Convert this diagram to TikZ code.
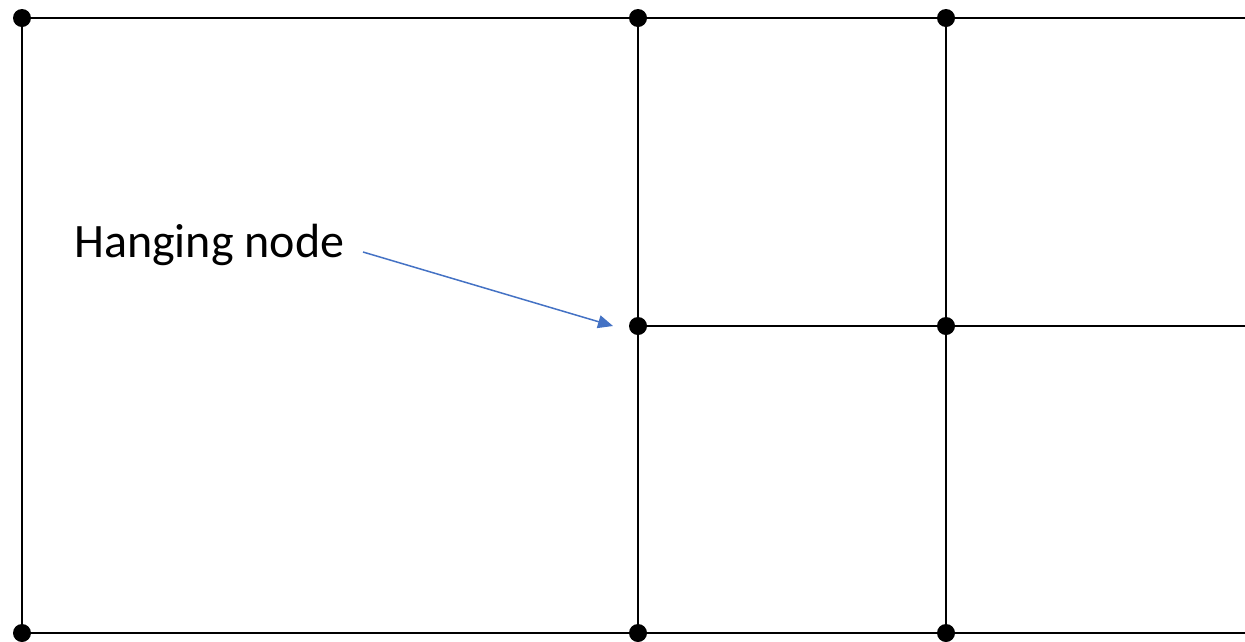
\documentclass[tikz,border=0pt]{standalone}
\usepackage{fontspec}
\setmainfont{Carlito}
\usetikzlibrary{arrows.meta}
\definecolor{arrowblue}{HTML}{4472C4}
\tikzset{
  gridline/.style={line width=2.5pt, black},
  dot/.style={circle, fill=black, inner sep=0pt, minimum size=18pt},
  pointer/.style={arrowblue, line width=1.5pt, -{Triangle[length=15pt, width=13pt]}},
  label/.style={anchor=base west, inner sep=0pt, font=\fontsize{48}{54}\selectfont}
}
\begin{document}
\begin{tikzpicture}[x=1pt, y=-1pt]
\useasboundingbox (0,0) rectangle (1245,641);
\coordinate (a1) at (22,18);
\coordinate (a2) at (22,633);
\coordinate (b1) at (638,18);
\coordinate (b2) at (638,326);
\coordinate (b3) at (638,633);
\coordinate (c1) at (946,18);
\coordinate (c2) at (946,326);
\coordinate (c3) at (946,633);
\coordinate (e1) at (1245,18);
\coordinate (e2) at (1245,326);
\coordinate (e3) at (1245,633);
\draw[gridline] (e1) -- (a1) -- (a2) -- (e3);
\draw[gridline] (b1) -- (b3);
\draw[gridline] (c1) -- (c3);
\draw[gridline] (b2) -- (e2);
\foreach \p in {a1,a2,b1,b2,b3,c1,c2,c3}
  \node[dot] at (\p) {};
\node[label] (txt) at (74,257) {Hanging node};
\coordinate (as) at (363,252);
\coordinate (at) at (613,326);
\draw[pointer] (as) -- (at);
\end{tikzpicture}
\end{document}
